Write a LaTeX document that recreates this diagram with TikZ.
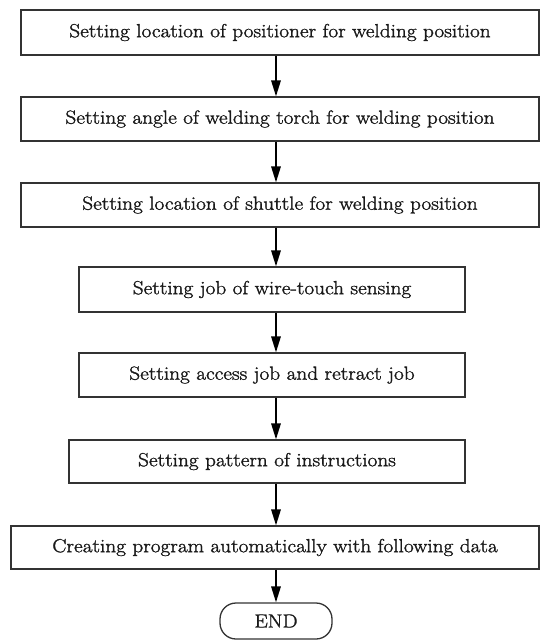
\documentclass[tikz,border=0pt]{standalone}
\usepackage{fontspec}
\setmainfont{Latin Modern Roman}
\newfontface\boxfont{Latin Modern Roman}[FakeBold=1.5,FakeStretch=1.12]
\usetikzlibrary{arrows.meta}
\begin{document}
\begin{tikzpicture}[x=1pt,y=1pt,
  box/.style={draw=black!80, line width=1.3pt, fill=white, inner sep=0pt, anchor=center,
    font=\boxfont\fontsize{19}{22}\selectfont, text=black!90},
  endbox/.style={box, rounded corners=16pt},
  arr/.style={line width=1.7pt, -{Triangle[width=9.5pt,length=16pt]}}]
\useasboundingbox (0,0) rectangle (540,-640);
\node[box, minimum width=518pt, minimum height=45pt] (b1) at (280,-32.5) {Setting location of positioner for welding position};
\node[box, minimum width=518pt, minimum height=44pt] (b2) at (280,-119) {Setting angle of welding torch for welding position};
\node[box, minimum width=518pt, minimum height=44pt] (b3) at (280,-205) {Setting location of shuttle for welding position};
\node[box, minimum width=386pt, minimum height=45pt] (b4) at (272,-289.5) {Setting job of wire-touch sensing};
\node[box, minimum width=386pt, minimum height=44pt] (b5) at (272,-375) {Setting access job and retract job};
\node[box, minimum width=396pt, minimum height=43pt] (b6) at (267,-461.5) {Setting pattern of instructions};
\node[box, minimum width=528pt, minimum height=43pt] (b7) at (275,-547.5) {Creating program automatically with following data};
\node[endbox, minimum width=112pt, minimum height=36pt] (e) at (276,-621) {END};
\coordinate (ax) at (276,0);
\draw[arr] (b1.south -| ax) -- (b2.north -| ax);
\draw[arr] (b2.south -| ax) -- (b3.north -| ax);
\draw[arr] (b3.south -| ax) -- (b4.north -| ax);
\draw[arr] (b4.south -| ax) -- (b5.north -| ax);
\draw[arr] (b5.south -| ax) -- (b6.north -| ax);
\draw[arr] (b6.south -| ax) -- (b7.north -| ax);
\draw[arr] (b7.south -| ax) -- (e.north -| ax);
\end{tikzpicture}
\end{document}
